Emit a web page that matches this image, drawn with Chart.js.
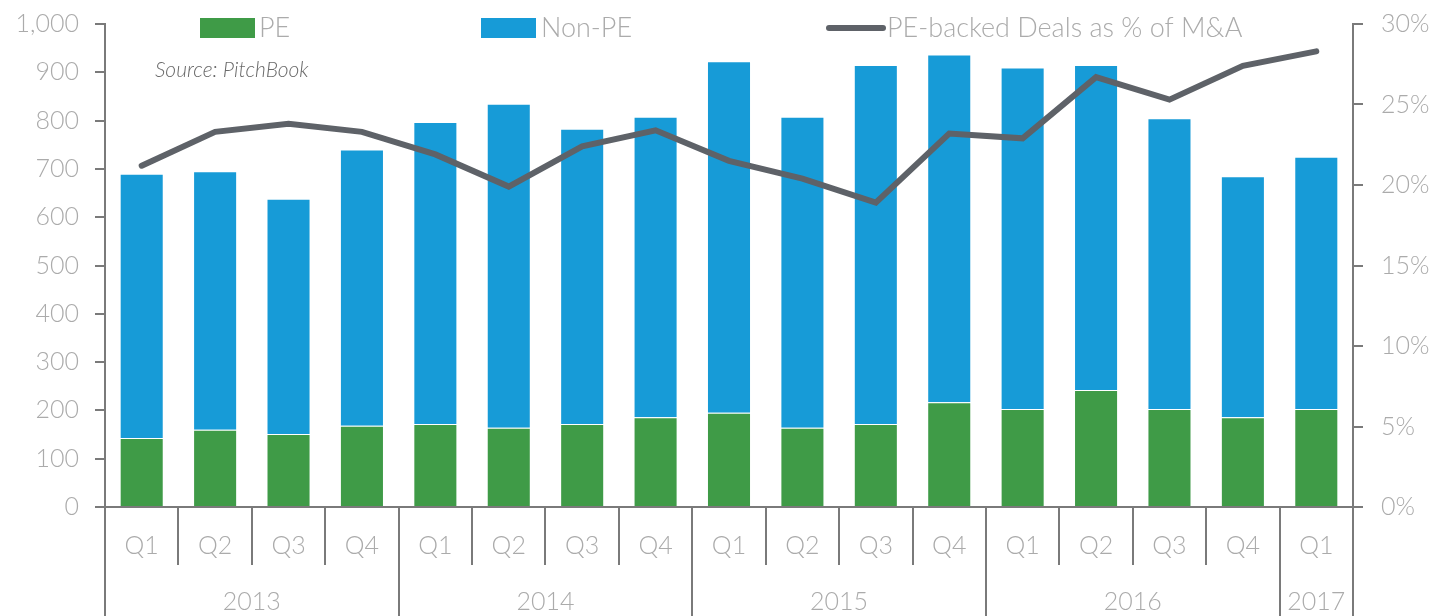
<!DOCTYPE html>
<html>
<head>
<meta charset="utf-8">
<script src="https://cdn.jsdelivr.net/npm/chart.js@4/dist/chart.umd.min.js"></script>
<style>
  html, body { margin:0; padding:0; background:#fff; }
  #wrap { width:1439px; height:616px; position:relative; }
</style>
</head>
<body>
<div id="wrap"><canvas id="chart"></canvas></div>
<script>
const quarters = ["Q1","Q2","Q3","Q4","Q1","Q2","Q3","Q4","Q1","Q2","Q3","Q4","Q1","Q2","Q3","Q4","Q1"];
const years = ["2013","2014","2015","2016","2017"];
const yearCounts = [4,4,4,4,1];
const peDeals = [143,160,151,168,172,164,172,186,195,164,172,217,203,242,203,186,203];
const totalDeals = [690,695,638,740,797,835,783,808,923,808,915,937,910,915,805,685,725];
const nonPeDeals = totalDeals.map((t,i)=>t-peDeals[i]);
const pePct = [21.2,23.3,23.8,23.3,21.9,19.9,22.4,23.4,21.5,20.4,18.9,23.2,22.9,26.7,25.3,27.4,28.3];
const leftTicks = [0,100,200,300,400,500,600,700,800,900,1000];
const rightTicks = [0,5,10,15,20,25,30];

const GREEN = "#3f9b47", BLUE = "#179bd7", LINE = "#5e6268";
const AXIS = "#7a7a7a", LABEL = "#ababab";
const FONT = "Lato";

// x axis grouping, legend and source note
const decorPlugin = {
  id: "decor",
  afterDraw(chart){
    const ctx = chart.ctx, x = chart.scales.x, area = chart.chartArea;
    const base = area.bottom;
    const edge = i => {
      if (i <= 0) return area.left;
      if (i >= quarters.length) return area.right;
      return (x.getPixelForValue(i-1) + x.getPixelForValue(i)) / 2;
    };
    ctx.save();
    ctx.strokeStyle = AXIS; ctx.lineWidth = 2;
    // quarter separators
    for (let i=0;i<=quarters.length;i++){
      const px = Math.round(edge(i));
      ctx.beginPath(); ctx.moveTo(px, base); ctx.lineTo(px, base+58); ctx.stroke();
    }
    // year separators
    let start = 0;
    const bounds = [0];
    yearCounts.forEach(c=>{ start += c; bounds.push(start); });
    bounds.forEach(b=>{
      const px = Math.round(edge(b));
      ctx.beginPath(); ctx.moveTo(px, base); ctx.lineTo(px, 616); ctx.stroke();
    });
    // labels
    ctx.fillStyle = LABEL;
    ctx.font = "300 25px " + FONT;
    ctx.textAlign = "center"; ctx.textBaseline = "middle";
    quarters.forEach((q,i)=>ctx.fillText(q, x.getPixelForValue(i), 546));
    years.forEach((y,i)=>{
      const cx = (edge(bounds[i]) + edge(bounds[i+1])) / 2;
      ctx.fillText(y, cx, 602);
    });
    // legend
    ctx.textAlign = "left";
    const ly = 28;
    ctx.font = "300 27px " + FONT;
    ctx.fillStyle = GREEN; ctx.fillRect(200, 18, 55, 20);
    ctx.fillStyle = BLUE; ctx.fillRect(481, 18, 55, 20);
    ctx.strokeStyle = LINE; ctx.lineWidth = 6; ctx.lineCap = "round";
    ctx.beginPath(); ctx.moveTo(829, ly); ctx.lineTo(883, ly); ctx.stroke();
    ctx.fillStyle = LABEL;
    ctx.fillText(chart.data.datasets[0].label, 259, ly);
    ctx.fillText(chart.data.datasets[1].label, 541, ly);
    ctx.fillText(chart.data.datasets[2].label, 887, ly);
    // source
    ctx.fillStyle = "#6a6a6a";
    ctx.font = "italic 300 21px " + FONT;
    ctx.fillText("Source: PitchBook", 155, 70);
    ctx.restore();
  }
};

new Chart(document.getElementById("chart"), {
  type: "bar",
  data: {
    labels: quarters,
    datasets: [
      { label:"PE", data:peDeals, backgroundColor:GREEN, borderColor:"rgba(255,255,255,0.45)", borderWidth:1, yAxisID:"y", stack:"d", order:2 },
      { label:"Non-PE", data:nonPeDeals, backgroundColor:BLUE, borderColor:"rgba(255,255,255,0.45)", borderWidth:1, yAxisID:"y", stack:"d", order:2 },
      { label:"PE-backed Deals as % of M&A", type:"line", data:pePct, yAxisID:"y2", borderColor:LINE, borderWidth:6,
        pointRadius:0, tension:0, order:1, borderCapStyle:"round", borderJoinStyle:"miter" }
    ]
  },
  options: {
    responsive:true, maintainAspectRatio:false, animation:false,
    layout:{ padding:{ top:24, bottom:0 } },
    plugins:{ legend:{display:false}, tooltip:{enabled:false} },
    datasets:{ bar:{ barPercentage:0.6, categoryPercentage:1 } },
    scales:{
      x:{
        stacked:true,
        grid:{ display:false },
        border:{ display:true, color:AXIS, width:2 },
        ticks:{ display:false },
        afterFit(s){ s.height = 109; s.paddingLeft = 0; s.paddingRight = 0; }
      },
      y:{
        stacked:true, position:"left", min:0, max:1000,
        afterBuildTicks(s){ s.ticks = leftTicks.map(v=>({value:v})); },
        grid:{ drawOnChartArea:false, drawTicks:true, tickLength:10, color:AXIS, lineWidth:2 },
        border:{ display:true, color:AXIS, width:2 },
        ticks:{ color:LABEL, font:{ family:FONT, size:25, weight:"300" }, padding:16,
          callback:v=>v.toLocaleString("en-US") },
        afterFit(s){ s.width = 105; s.paddingTop = 0; s.paddingBottom = 0; }
      },
      y2:{
        position:"right", min:0, max:30,
        afterBuildTicks(s){ s.ticks = rightTicks.map(v=>({value:v})); },
        grid:{ drawOnChartArea:false, drawTicks:true, tickLength:10, color:AXIS, lineWidth:2 },
        border:{ display:true, color:AXIS, width:2 },
        ticks:{ color:LABEL, font:{ family:FONT, size:25, weight:"300" }, padding:18,
          callback:v=>v+"%" },
        afterFit(s){ s.width = 86; s.paddingTop = 0; s.paddingBottom = 0; }
      }
    }
  },
  plugins:[decorPlugin]
});
</script>
</body>
</html>
